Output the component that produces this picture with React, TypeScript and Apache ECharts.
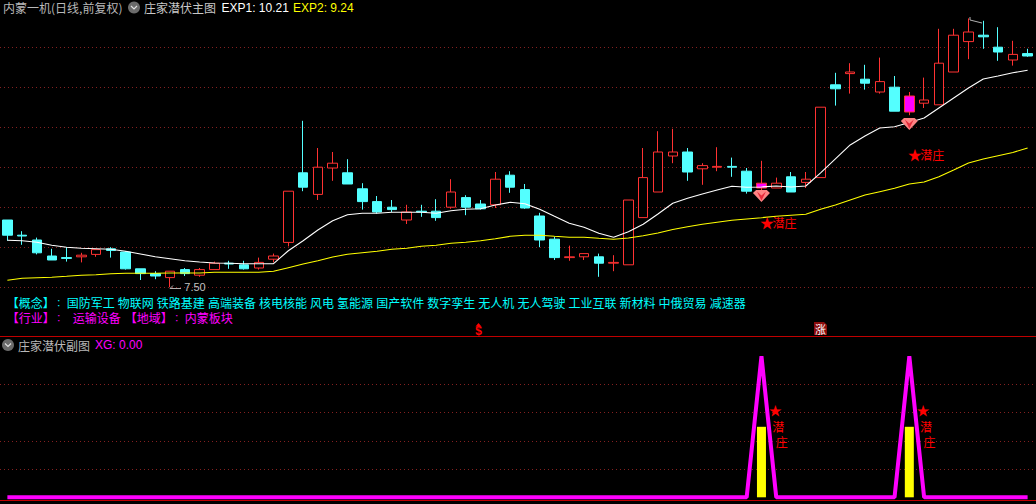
import React, { useEffect, useRef } from "react";
import * as echarts from "echarts";

// [open, close, low, high]
const candles: number[][] = [
  [8.34,8.15,8.08,8.34],[8.15,8.14,8.03,8.20],[8.09,7.93,7.91,8.12],[7.89,7.84,7.84,7.98],[7.87,7.86,7.82,8.00],
  [7.88,7.90,7.81,7.93],[7.91,7.97,7.88,7.97],[7.98,7.96,7.87,8.00],[7.94,7.73,7.72,7.95],[7.73,7.67,7.59,7.73],
  [7.67,7.64,7.60,7.70],[7.62,7.70,7.50,7.70],[7.72,7.67,7.64,7.74],[7.65,7.72,7.63,7.74],[7.72,7.80,7.72,7.82],
  [7.80,7.79,7.73,7.83],[7.78,7.73,7.72,7.83],[7.74,7.81,7.72,7.87],[7.85,7.89,7.81,7.92],[8.06,8.70,8.01,8.70],
  [8.93,8.75,8.70,9.58],[8.66,9.00,8.59,9.24],[8.99,9.05,8.83,9.19],[8.93,8.79,8.79,9.10],[8.73,8.57,8.47,8.80],
  [8.57,8.44,8.42,8.64],[8.50,8.47,8.44,8.59],[8.34,8.44,8.29,8.53],[8.45,8.44,8.38,8.53],[8.45,8.37,8.33,8.60],
  [8.50,8.69,8.48,8.85],[8.62,8.50,8.40,8.65],[8.54,8.48,8.47,8.59],[8.53,8.85,8.49,8.94],[8.90,8.75,8.68,8.95],
  [8.72,8.49,8.48,8.79],[8.39,8.09,8.00,8.43],[8.10,7.87,7.84,8.13],[7.87,7.88,7.83,8.02],[7.88,7.92,7.84,7.92],
  [7.88,7.80,7.63,7.92],[7.80,7.81,7.70,7.90],[7.78,8.59,7.78,8.59],[8.37,8.87,8.37,9.24],[8.69,9.19,8.69,9.45],
  [9.14,9.19,9.05,9.48],[9.19,8.94,8.83,9.24],[8.98,9.02,8.78,9.05],[9.00,9.01,8.95,9.25],[9.01,9.00,8.88,9.12],
  [8.95,8.70,8.67,8.99],[8.74,8.80,8.68,9.08],[8.74,8.80,8.74,8.87],[8.88,8.69,8.69,8.94],[8.81,8.85,8.74,8.94],
  [8.87,9.75,8.87,9.75],[10.03,9.98,9.77,10.18],[10.17,10.19,9.92,10.30],[10.10,10.05,9.97,10.28],[9.94,10.07,9.92,10.37],
  [10.00,9.70,9.70,10.14],[9.89,9.69,9.65,9.94],[9.80,9.84,9.74,10.12],[9.78,10.30,9.78,10.73],[10.19,10.65,10.19,10.73],
  [10.57,10.69,10.35,10.86],[10.65,10.63,10.48,10.83],[10.50,10.44,10.33,10.75],[10.34,10.41,10.27,10.58],[10.42,10.39,10.38,10.48],
];

const exp1 = [
  8.086,8.081,8.061,8.024,7.999,7.986,7.981,7.974,7.949,7.915,
  7.881,7.856,7.831,7.815,7.802,7.799,7.794,7.794,7.794,7.956,
  8.081,8.215,8.331,8.406,8.424,8.424,8.436,8.436,8.436,8.424,
  8.456,8.474,8.481,8.528,8.561,8.544,8.474,8.386,8.299,8.249,
  8.174,8.124,8.194,8.286,8.415,8.549,8.611,8.665,8.715,8.761,
  8.749,8.753,8.765,8.753,8.765,8.928,9.103,9.278,9.39,9.49,
  9.506,9.559,9.615,9.74,9.865,9.99,10.103,10.14,10.181,10.211,
];

const exp2 = [
  7.586,7.611,7.619,7.624,7.636,7.649,7.656,7.669,7.674,7.674,
  7.674,7.678,7.678,7.678,7.686,7.686,7.686,7.686,7.699,7.744,
  7.79,7.831,7.878,7.911,7.931,7.949,7.974,7.986,8.011,8.024,
  8.049,8.061,8.081,8.106,8.136,8.149,8.149,8.136,8.124,8.124,
  8.111,8.099,8.115,8.144,8.178,8.221,8.256,8.286,8.311,8.336,
  8.353,8.369,8.386,8.399,8.411,8.474,8.528,8.59,8.652,8.694,
  8.736,8.79,8.815,8.881,8.965,9.052,9.103,9.144,9.184,9.24,
];

const signalIdx = [51, 61];
const signalGemPrice = [8.64, 9.54];
const signalStarPrice = [8.315, 9.165];
const xgPeak = 100;
const barLevel = 50;
const FONT = "'Noto Sans CJK SC'";
const NUMFONT = "'Liberation Sans'";

const categories = candles.map((_, i) => String(i + 1));
const xgValues = categories.map((_, i) => (signalIdx.includes(i) ? xgPeak : 0));
const barValues = categories.map((_, i) => (signalIdx.includes(i) ? barLevel : "-"));

const conceptTags = ["国防军工", "物联网", "铁路基建", "高端装备", "核电核能", "风电", "氢能源", "国产软件", "数字孪生", "无人机", "无人驾驶", "工业互联", "新材料", "中俄贸易", "减速器"];

const RED = "#ff3232";
const CYAN = "#54ffff";
const MAGENTA = "#ff00ff";
const GEM = "path://M3 0 L13 0 L16 3 L8 12 L0 3 Z";
const GEM_IN = "path://M4 0 L8 4 L12 0 L8 9 Z";

const note = (idx: number, value: number, text: string, offset: number[], color: string, font: string, size = 12) => ({
  coord: [idx, value],
  symbol: "circle",
  symbolSize: 1,
  itemStyle: { color: "transparent" },
  label: { show: true, position: "inside", formatter: text, offset, color, fontFamily: font, fontSize: size },
});

const txt = (x: number, y: number, text: string, fill: string, font = FONT, size = 12) => ({
  type: "text",
  silent: true,
  style: { x, y, text, fill, font: `${size}px ${font}`, verticalAlign: "middle" },
});

const icon = (cx: number, cy: number) => [
  { type: "circle", silent: true, shape: { cx, cy, r: 6 }, style: { fill: "#6b6b6b" } },
  {
    type: "polyline",
    silent: true,
    shape: { points: [[cx - 3, cy - 1.5], [cx, cy + 1.5], [cx + 3, cy - 1.5]] },
    style: { stroke: "#e0e0e0", fill: "none", lineWidth: 1.2 },
  },
];

const tagItems = () => {
  let x = 66.7;
  return conceptTags.map((tag) => {
    const item = txt(x, 302, tag, "#00ffff");
    x += tag.length * 12 + 3.07;
    return item;
  });
};

export default function App() {
  const ref = useRef<HTMLDivElement>(null);
  useEffect(() => {
    const chart = echarts.init(ref.current!, undefined, { renderer: "svg" });
    const hidden = { axisLine: { show: false }, axisTick: { show: false }, axisLabel: { show: false } };
    const split = { show: true, lineStyle: { color: "#842020", type: [1, 3], width: 1 } };
    chart.setOption({
      animation: false,
      backgroundColor: "#000",
      grid: [
        { left: -1, top: 47.2, width: 1036, height: 240 },
        { left: -1, top: 356.3, width: 1036, height: 141 },
      ],
      xAxis: [
        { type: "category", gridIndex: 0, data: categories, ...hidden, splitLine: { show: false } },
        { type: "category", gridIndex: 1, data: categories, ...hidden, splitLine: { show: false } },
      ],
      yAxis: [
        { type: "value", gridIndex: 0, min: 7.5, max: 10.5, interval: 0.5, ...hidden, splitLine: split },
        { type: "value", gridIndex: 1, min: 0, max: 100, interval: 20, ...hidden, splitLine: { ...split, showMinLine: false, showMaxLine: false } },
      ],
      series: [
        {
          type: "candlestick",
          xAxisIndex: 0,
          yAxisIndex: 0,
          clip: false,
          barWidth: 10,
          itemStyle: { color: "#000", color0: CYAN, borderColor: RED, borderColor0: CYAN, borderWidth: 1 },
          data: candles.map((c, i) =>
            signalIdx.includes(i)
              ? { value: c, itemStyle: { color: MAGENTA, color0: MAGENTA, borderColor: RED, borderColor0: RED, borderWidth: 1 } }
              : c
          ),
        },
        {
          type: "line",
          name: "EXP1",
          xAxisIndex: 0,
          yAxisIndex: 0,
          clip: false,
          data: exp1,
          showSymbol: false,
          z: 3,
          lineStyle: { color: "#ffffff", width: 1.1 },
          markPoint: {
            silent: true,
            z: 6,
            data: [
              note(11, 7.5, "7.50", [25, 0], "#c0c0c0", NUMFONT, 11),
              note(65, 10.86, "10.86", [29, 5], "#c0c0c0", NUMFONT),
              ...signalIdx.map((idx, k) => note(idx, signalStarPrice[k], "★", [5.5, 0], "#ff0000", FONT, 14)),
              ...signalIdx.map((idx, k) => note(idx, signalStarPrice[k], "潜庄", [23, 0], "#ff0000", FONT)),
              ...signalIdx.map((idx, k) => ({
                coord: [idx, signalGemPrice[k]],
                symbol: GEM,
                symbolSize: [17, 12],
                symbolKeepAspect: false,
                itemStyle: { color: "#ff8484" },
              })),
              ...signalIdx.map((idx, k) => ({
                coord: [idx, signalGemPrice[k]],
                symbol: GEM_IN,
                symbolSize: [9, 9],
                symbolKeepAspect: false,
                itemStyle: { color: "#e82c3c" },
              })),
            ],
          },
        },
        {
          type: "line",
          name: "EXP2",
          xAxisIndex: 0,
          yAxisIndex: 0,
          clip: false,
          data: exp2,
          showSymbol: false,
          z: 3,
          lineStyle: { color: "#ffff00", width: 1.1 },
        },
        {
          type: "bar",
          xAxisIndex: 1,
          yAxisIndex: 1,
          data: barValues,
          barWidth: 9,
          itemStyle: { color: "#ffff00" },
          z: 2,
        },
        {
          type: "line",
          name: "XG",
          xAxisIndex: 1,
          yAxisIndex: 1,
          clip: false,
          data: xgValues,
          showSymbol: false,
          z: 3,
          lineStyle: { color: MAGENTA, width: 4, join: "bevel" },
          markPoint: {
            silent: true,
            data: signalIdx.flatMap((idx) => [
              note(idx + 1, 62.5, "★", [-1, 0], "#ff0000", FONT, 13),
              note(idx + 1, 50, "潜", [2, 0], "#ff0000", FONT),
              note(idx + 1, 39.6, "庄", [5.5, 0], "#ff0000", FONT),
            ]),
          },
        },
      ],
      graphic: [
        { type: "line", silent: true, shape: { x1: 0, y1: 336.5, x2: 1036, y2: 336.5 }, style: { stroke: "#c00000", lineWidth: 1 } },
        { type: "line", silent: true, shape: { x1: 0, y1: 500.5, x2: 1036, y2: 500.5 }, style: { stroke: "#c00000", lineWidth: 1 } },
        txt(3, 7.5, "内蒙一机(日线,前复权)", "#b8b8b8"),
        ...icon(134, 7.5),
        txt(144, 7.5, "庄家潜伏主图", "#c8c8c8"),
        txt(221.5, 7.5, "EXP1: 10.21", "#ffffff", NUMFONT),
        txt(293, 7.5, "EXP2: 9.24", "#ffff00", NUMFONT),
        txt(6.7, 302, "【概念】", "#00ffff"),
        txt(56.5, 302, "：", "#00ffff", FONT, 9),
        ...tagItems(),
        txt(6.7, 317.5, "【行业】", MAGENTA),
        txt(56.5, 317.5, "：", MAGENTA, FONT, 9),
        txt(72.7, 317.5, "运输设备", MAGENTA),
        txt(124.7, 317.5, "【地域】", MAGENTA),
        txt(174.5, 317.5, "：", MAGENTA, FONT, 9),
        txt(184.7, 317.5, "内蒙板块", MAGENTA),
        ...icon(8, 345),
        txt(18, 345, "庄家潜伏副图", "#b8b8b8"),
        txt(95, 345, "XG: 0.00", MAGENTA, NUMFONT),
        // low / high pointers
        { type: "polyline", silent: true, shape: { points: [[173, 285.5], [170, 288.5], [181, 288.5]] }, style: { stroke: "#b0b0b0", fill: "none", lineWidth: 1 } },
        { type: "polyline", silent: true, shape: { points: [[970, 17], [970, 20], [982, 23]] }, style: { stroke: "#b0b0b0", fill: "none", lineWidth: 1 } },
        // small "$" and "涨" flags above the divider
        { type: "polygon", silent: true, shape: { points: [[478.5, 323], [475.5, 326.5], [481.5, 326.5]] }, style: { fill: "#ff0000" } },
        { type: "text", silent: true, style: { x: 478.5, y: 331, text: "$", fill: "#ff0000", font: `bold 12px ${NUMFONT}`, align: "center", verticalAlign: "middle" } },
        { type: "polygon", silent: true, shape: { points: [[814, 322], [824, 322], [827, 325], [827, 335], [814, 335]] }, style: { fill: "#8a0c0c" } },
        { type: "text", silent: true, style: { x: 820.5, y: 328.5, text: "涨", fill: "#ffffff", font: `11px ${FONT}`, align: "center", verticalAlign: "middle" } },
      ],
    });
    return () => chart.dispose();
  }, []);
  return <div ref={ref} style={{ position: "fixed", left: 0, top: 0, width: 1036, height: 504, background: "#000" }} />;
}
